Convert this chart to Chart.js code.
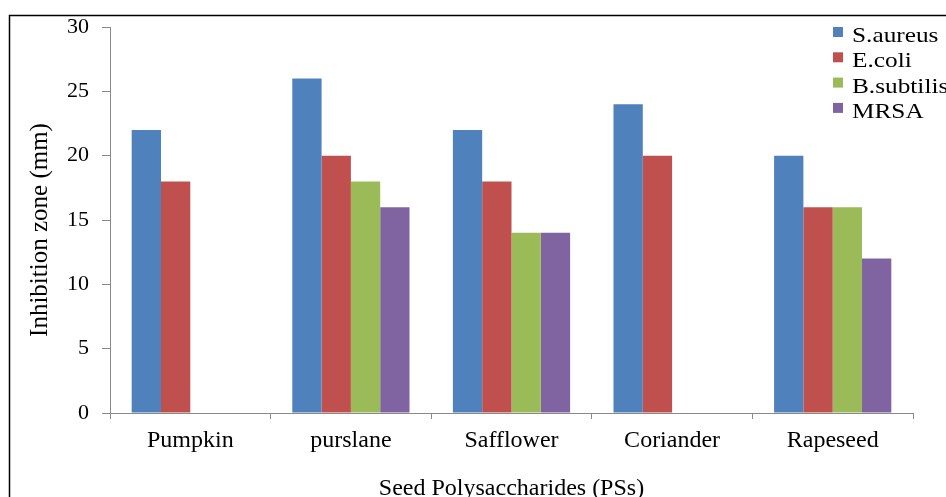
<!DOCTYPE html>
<html>
<head>
<meta charset="utf-8">
<script src="https://cdn.jsdelivr.net/npm/chart.js@4/dist/chart.umd.min.js"></script>
<style>
  body { margin: 0; background: #fff; }
  #wrap { position: relative; width: 946px; height: 497px; }
</style>
</head>
<body>
<div id="wrap"><canvas id="myChart" width="946" height="497"></canvas></div>
<script>
const seeds = ["Pumpkin", "purslane", "Safflower", "Coriander", "Rapeseed"];
const sAureus = [22, 26, 22, 24, 20];
const eColi = [18, 20, 18, 20, 16];
const bSubtilis = [null, 18, 14, null, 16];
const mrsa = [null, 16, 14, null, 12];
const yTicks = [0, 5, 10, 15, 20, 25, 30];
const yTitle = 'Inhibition zone (mm)';

const serif = "'Liberation Serif', 'Times New Roman', serif";
const axisGray = '#8a8a8a';

// frame round the picture, y title and legend drawn by hand
const extras = {
  id: 'extras',
  beforeDraw(chart) {
    const ctx = chart.ctx;
    ctx.save();
    ctx.fillStyle = '#fff';
    ctx.fillRect(0, 0, chart.width, chart.height);
    ctx.strokeStyle = '#000';
    ctx.lineWidth = 1.5;
    ctx.strokeRect(9.5, 15.5, 1000, 600);
    ctx.restore();
  },
  afterDraw(chart) {
    const ctx = chart.ctx;
    ctx.save();
    ctx.translate(47, 230);
    ctx.rotate(-Math.PI / 2);
    ctx.font = "25px " + serif;
    ctx.fillStyle = '#000';
    ctx.textAlign = 'center';
    ctx.textBaseline = 'alphabetic';
    ctx.fillText(yTitle, 0, 0);
    ctx.restore();

    ctx.save();
    ctx.font = "22px " + serif;
    ctx.textBaseline = 'alphabetic';
    ctx.textAlign = 'left';
    chart.data.datasets.forEach((ds, i) => {
      let y = 32 + i * 25.3;
      ctx.fillStyle = ds.backgroundColor;
      ctx.fillRect(833, y - 5, 10, 10);
      ctx.save();
      ctx.translate(852, y + 10);
      ctx.scale(1.15, 1);
      ctx.fillStyle = '#000';
      ctx.fillText(ds.label, 0, 0);
      ctx.restore();
    });
    ctx.restore();
  }
};

new Chart(document.getElementById('myChart'), {
  type: 'bar',
  data: {
    labels: seeds,
    datasets: [
      { label: 'S.aureus', data: sAureus, backgroundColor: '#4F81BD' },
      { label: 'E.coli', data: eColi, backgroundColor: '#C0504D' },
      { label: 'B.subtilis', data: bSubtilis, backgroundColor: '#9BBB59' },
      { label: 'MRSA', data: mrsa, backgroundColor: '#8064A2' }
    ]
  },
  options: {
    responsive: false,
    animation: false,
    categoryPercentage: 0.73,
    barPercentage: 1.0,
    layout: { padding: { left: 0, top: 27, right: 33, bottom: 0 } },
    plugins: {
      legend: { display: false },
      tooltip: { enabled: false }
    },
    scales: {
      y: {
        min: 0,
        max: 30,
        afterFit(scale) { scale.width = 110; },
        afterBuildTicks(scale) { scale.ticks = yTicks.map(v => ({ value: v })); },
        ticks: { color: '#000', font: { family: serif, size: 22 }, padding: 13 },
        grid: { drawOnChartArea: false, tickLength: 8, color: axisGray },
        border: { color: axisGray, width: 1 }
      },
      x: {
        afterFit(scale) { scale.height = 84; },
        ticks: { color: '#000', font: { family: serif, size: 24 }, padding: 7 },
        grid: { drawOnChartArea: false, tickLength: 6, color: axisGray, offset: true },
        border: { color: axisGray, width: 1 },
        title: {
          display: true,
          text: 'Seed Polysaccharides (PSs)',
          color: '#000',
          font: { family: serif, size: 24, lineHeight: 1 },
          padding: { top: 0, bottom: -4 }
        }
      }
    }
  },
  plugins: [extras]
});
</script>
</body>
</html>
